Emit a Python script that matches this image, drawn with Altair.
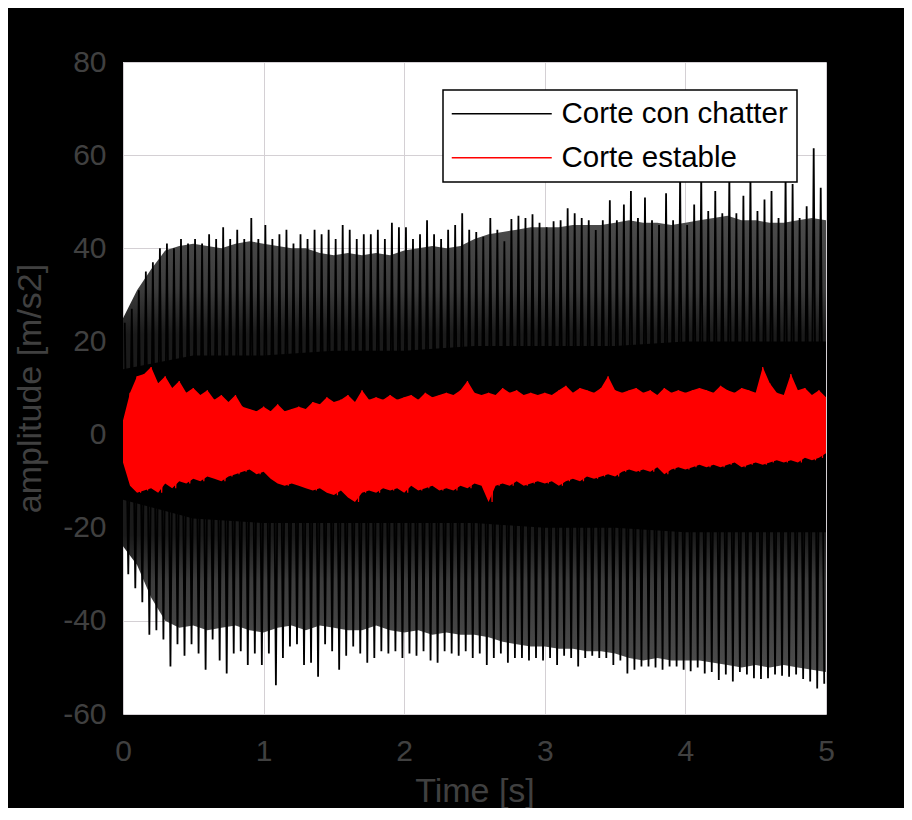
import altair as alt
import pandas as pd

# ---------------- data ----------------
SERIES = ["Corte con chatter", "Corte estable"]
COLORS = ["#000000", "#ff0000"]
X_TICKS = [0, 1, 2, 3, 4, 5]
Y_TICKS = [-60, -40, -20, 0, 20, 40, 60, 80]

# chatter signal: upper spike peaks (one per 0.05 s, at 0.0125 + 0.05k)
CHATTER_PEAKS = [
    24, 27, 31, 35, 37, 40, 41, 40, 42, 41,
    42, 41, 43, 42, 44.5, 42, 44, 42, 46.5, 42,
    45, 42, 43, 44, 41, 43, 42, 44, 43, 44,
    42, 45, 44, 42, 43, 43, 44, 42, 45.5, 44.5,
    44.5, 42, 43, 46, 43, 42, 44, 45, 47.5, 44,
    43.5, 42.5, 46.5, 44, 41.5, 46.3, 47, 46.5, 47.3, 45.5,
    44.5, 45.8, 46, 48.6, 47.5, 46.5, 46, 43.9, 46, 50.3,
    46, 49.4, 52.3, 46.5, 50.9, 46, 45, 51.8, 46, 56,
    45, 49.4, 56, 48, 52.3, 47.5, 56, 47.5, 51.3, 56,
    48, 50.5, 52.3, 46.5, 56, 53.8, 46.5, 49, 61.5, 53,
]
# chatter signal: lower spike troughs (one per 0.05 s, at 0.0375 + 0.05k)
CHATTER_TROUGHS = [
    -30, -33, -36, -43, -42, -44, -49.8, -45, -47.5, -45,
    -47, -50.5, -44, -48.5, -51.3, -47, -46.5, -49.5, -47, -49.5,
    -47, -53.8, -48, -45.5, -45, -49.5, -49, -52, -45, -46.5,
    -50.5, -47.5, -45.5, -47, -49, -48, -46.5, -47, -46.5, -48,
    -47, -47.5, -46.5, -48.5, -49, -46.5, -47, -47.5, -46.5, -48,
    -47, -49.5, -48, -47, -49, -48, -48, -48.5, -48, -48.5,
    -48, -49.5, -47.5, -48, -49.8, -48, -47.5, -48, -48, -49.5,
    -48.5, -51.3, -50.5, -49.8, -49.8, -50, -50.5, -49.8, -49.8, -50.5,
    -50.8, -50, -51.3, -51, -52.7, -51.5, -53, -51, -51.5, -52.3,
    -52.5, -52.3, -51.5, -51.8, -52, -51.5, -52.5, -53, -54.5, -53.5,
]
# chatter signal: dense (grey) band, every 0.1 s
CHATTER_BAND_HI = [
    25, 31, 35.5, 39.5, 40.5, 41, 40.5, 40, 41, 41.5,
    41, 40.5, 40, 40, 39, 38.5, 39, 38.5, 39, 38.5,
    39.5, 40, 40.5, 40, 40.5, 42, 43, 43.5, 44, 44.5,
    44.5, 44.5, 45, 45, 45, 45.5, 46, 45.5, 45.5, 45,
    45.5, 46, 46.5, 47, 46, 46, 45.5, 45.5, 46, 46.5, 46,
]
CHATTER_BAND_LO = [
    -24, -28, -35, -40, -41.5, -41, -42, -41.5, -41, -42,
    -42.5, -41.5, -41, -42, -41, -41.5, -42, -42, -41, -42,
    -42.5, -42, -43, -42.5, -43, -43, -43.5, -44.5, -45, -45.5,
    -45.5, -46, -46, -46.5, -46.5, -47, -48, -48.5, -48, -48.5,
    -48.5, -48.5, -49, -49.5, -50, -49.5, -50, -49.5, -50, -50.5, -51,
]
# chatter signal: solid black core, every 0.5 s
CHATTER_CORE_HI = [14, 17, 17, 18, 18, 19, 19, 19, 20, 20, 20]
CHATTER_CORE_LO = [-14, -18, -19, -19, -19, -19, -20, -20, -21, -21, -21]

# stable cut: upper / lower envelope, every 0.05 s
STABLE_HI = [
    3, 9, 12.5, 13, 14.5, 11, 12.5, 10, 11.5, 9,
    10, 8.5, 9.5, 7.5, 8.5, 7, 8.5, 6, 5.5, 5,
    6, 5, 6.5, 5, 5.5, 6, 5.5, 7, 6.5, 8,
    7, 7.5, 8.5, 7, 9.5, 7.5, 8, 7.5, 8.5, 7.5,
    8, 8.5, 7.5, 9, 8, 8.5, 9, 8.5, 9.5, 11.5,
    9, 8.5, 9, 8.5, 10, 9, 9.5, 8.5, 9, 8.5,
    9, 8.5, 9.5, 10.5, 9, 10, 9.5, 9, 10, 12.5,
    9.5, 9, 9.5, 10, 9, 9.5, 8.5, 10, 9, 9.5,
    9, 9.5, 10, 9.5, 9, 10.5, 9.5, 9, 10, 9.5,
    9, 14.5, 11, 9, 8.5, 13, 9.5, 10, 8.5, 9.5, 8,
]
STABLE_LO = [
    -6, -11, -12.5, -12, -11.5, -12.5, -10.5, -11.5, -10, -10.5,
    -9.5, -10, -9, -9.5, -10, -9, -8.5, -8, -7.5, -8.5,
    -8, -9.5, -10.5, -11, -10.5, -11, -11.5, -12, -11.5, -12.5,
    -13, -12, -13.5, -14.5, -12.5, -12, -12.5, -11.5, -12, -11.5,
    -12.5, -11, -12, -11.5, -11, -12, -11.5, -12, -11, -11.5,
    -10.5, -11, -14.5, -11, -10.5, -11, -10, -11, -10.5, -10,
    -10.5, -10, -11, -10, -9.5, -10, -9, -9.5, -9, -8.5,
    -9, -8, -7.5, -8, -7.5, -8, -7, -8.5, -7.5, -7,
    -7.5, -7, -6.5, -7, -6.5, -7, -6.5, -6, -7, -6.5,
    -6, -6.5, -6, -5.5, -6, -5.5, -6, -5, -5.5, -5, -4,
]

# ---------------- tables for the library ----------------
band = pd.DataFrame({"t": [i * 0.1 for i in range(len(CHATTER_BAND_HI))],
                     "lo": CHATTER_BAND_LO, "hi": CHATTER_BAND_HI})
core = pd.DataFrame({"t": [i * 0.5 for i in range(len(CHATTER_CORE_HI))],
                     "lo": CHATTER_CORE_LO, "hi": CHATTER_CORE_HI})

rows = []
for k, (p, q) in enumerate(zip(CHATTER_PEAKS, CHATTER_TROUGHS)):
    rows.append({"t": 0.05 * k + 0.0125, "v": p, "o": 2 * k, "s": SERIES[0]})
    rows.append({"t": 0.05 * k + 0.0375, "v": q, "o": 2 * k + 1, "s": SERIES[0]})
chatter_line = pd.DataFrame(rows)

stable_area = pd.DataFrame({"t": [i * 0.05 for i in range(len(STABLE_HI))],
                            "lo": STABLE_LO, "hi": STABLE_HI})
rows = []
for i, (h, l) in enumerate(zip(STABLE_HI, STABLE_LO)):
    rows.append({"t": 0.05 * i, "v": h, "o": 2 * i, "s": SERIES[1]})
    rows.append({"t": 0.05 * i + 0.025, "v": l, "o": 2 * i + 1, "s": SERIES[1]})
stable_line = pd.DataFrame(rows)

# ---------------- chart ----------------
FONT = "Liberation Sans"
AX_COLOR = "#404040"

x_axis = alt.Axis(values=X_TICKS, title="Time [s]", grid=True, ticks=False,
                  domain=False, labelPadding=22, titlePadding=8,
                  labelFlush=False, labelExpr="'' + datum.value")
y_axis = alt.Axis(values=Y_TICKS, title="amplitude [m/s2]", grid=True,
                  ticks=False, domain=False, labelPadding=17, titlePadding=15,
                  labelFlush=False, labelExpr="'' + datum.value")
xs = alt.Scale(domain=[0, 5], nice=False, zero=False)
ys = alt.Scale(domain=[-60, 80], nice=False, zero=False)

color = alt.Color("s:N", scale=alt.Scale(domain=SERIES, range=COLORS),
                  legend=alt.Legend(title=None, orient="none", legendX=320,
                                    legendY=28))

band_fill = alt.Gradient(
    gradient="linear", x1=0, x2=0, y1=0, y2=1,
    stops=[
        alt.GradientStop(color="#4c4c4c", offset=0),
        alt.GradientStop(color="#3c3c3c", offset=0.16),
        alt.GradientStop(color="#1a1a1a", offset=0.26),
        alt.GradientStop(color="#1a1a1a", offset=0.70),
        alt.GradientStop(color="#3c3c3c", offset=0.80),
        alt.GradientStop(color="#4c4c4c", offset=1),
    ],
)

band_layer = alt.Chart(band).mark_area(color=band_fill, clip=True).encode(
    x=alt.X("t:Q", scale=xs, axis=x_axis),
    y=alt.Y("lo:Q", scale=ys, axis=y_axis),
    y2="hi:Q",
)
core_layer = alt.Chart(core).mark_area(color="#000000", clip=True).encode(
    x=alt.X("t:Q", scale=xs), y=alt.Y("lo:Q", scale=ys), y2="hi:Q",
)
chatter_layer = alt.Chart(chatter_line).mark_line(strokeWidth=1.8, clip=True).encode(
    x=alt.X("t:Q", scale=xs), y=alt.Y("v:Q", scale=ys),
    color=color, order="o:Q",
)
stable_area_layer = alt.Chart(stable_area).mark_area(color="#ff0000", clip=True).encode(
    x=alt.X("t:Q", scale=xs), y=alt.Y("lo:Q", scale=ys), y2="hi:Q",
)
stable_layer = alt.Chart(stable_line).mark_line(strokeWidth=1.2, clip=True).encode(
    x=alt.X("t:Q", scale=xs), y=alt.Y("v:Q", scale=ys),
    color=color, order="o:Q",
)

chart = (
    alt.layer(band_layer, core_layer, chatter_layer, stable_area_layer, stable_layer)
    .properties(
        width=703, height=652, background="#000000",
        padding={"left": 115, "top": 54, "right": 78, "bottom": 94},
        autosize=alt.AutoSizeParams(type="none"),
    )
    .configure_view(fill="#ffffff", stroke=None)
    .configure_axis(
        labelFont=FONT, labelFontSize=30, labelColor=AX_COLOR,
        titleFont=FONT, titleFontSize=34, titleFontWeight="normal",
        titleColor=AX_COLOR, gridColor="#d4d0d4", gridWidth=1, gridOpacity=1,
    )
    .configure_legend(
        fillColor="#ffffff", strokeColor="#000000", strokeWidth=1.5,
        padding=9, rowPadding=13, symbolType="M-1.5,0H8.5", symbolSize=400,
        symbolStrokeWidth=1.5, labelFont=FONT, labelFontSize=29.5,
        labelColor="#000000", labelOffset=80, labelLimit=400,
    )
)

chart.save("out.html", embed_options={"renderer": "svg", "actions": False})
